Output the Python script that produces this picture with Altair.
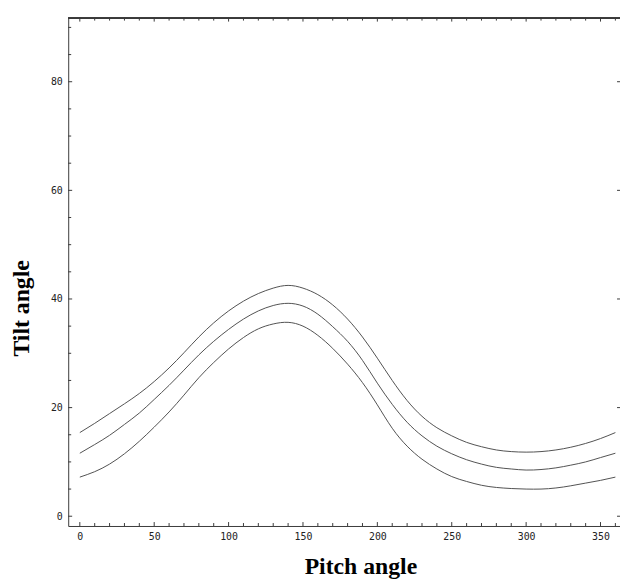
import altair as alt
import pandas as pd

# ---- data ----
pitch = [0, 10, 20, 30, 40, 50, 60, 70, 80, 90, 100, 110, 120, 130, 140, 150, 160, 170, 180,
         190, 200, 210, 220, 230, 240, 250, 260, 270, 280, 290, 300, 310, 320, 330, 340, 350, 360]
tilt_upper = [15.4, 17.1, 18.9, 20.7, 22.6, 24.8, 27.3, 30.1, 33.0, 35.6, 37.8, 39.6, 41.0, 42.0, 42.5,
              42.0, 40.8, 38.9, 36.3, 33.0, 29.1, 25.0, 21.3, 18.4, 16.3, 14.8, 13.6, 12.8, 12.2,
              11.9, 11.8, 11.9, 12.2, 12.7, 13.4, 14.3, 15.4]
tilt_middle = [11.6, 13.2, 14.9, 16.9, 19.0, 21.5, 24.1, 26.9, 29.7, 32.2, 34.4, 36.3, 37.8, 38.8, 39.2,
               38.7, 37.2, 34.9, 32.2, 28.7, 24.5, 20.6, 17.3, 14.8, 12.9, 11.5, 10.4, 9.6, 9.0,
               8.7, 8.5, 8.6, 8.9, 9.4, 10.0, 10.8, 11.6]
tilt_lower = [7.2, 8.2, 9.6, 11.5, 13.8, 16.4, 19.2, 22.3, 25.5, 28.3, 30.8, 32.9, 34.5, 35.4, 35.7,
              35.0, 33.3, 30.9, 28.0, 24.6, 20.5, 16.2, 12.9, 10.5, 8.7, 7.3, 6.4, 5.7, 5.3,
              5.1, 5.0, 5.0, 5.2, 5.6, 6.1, 6.6, 7.2]

x_major = [0, 50, 100, 150, 200, 250, 300, 350]
x_minor = [10, 20, 30, 40, 60, 70, 80, 90, 110, 120, 130, 140, 160, 170, 180, 190, 210, 220,
           230, 240, 260, 270, 280, 290, 310, 320, 330, 340, 360]
y_major = [0, 20, 40, 60, 80]
y_minor = [5, 10, 15, 25, 30, 35, 45, 50, 55, 65, 70, 75, 85, 90]

x_domain = [-7.8, 363.1]
y_domain = [-1.8, 91.8]

rows = []
for name, ys in (("upper", tilt_upper), ("middle", tilt_middle), ("lower", tilt_lower)):
    for p, t in zip(pitch, ys):
        rows.append({"pitch": p, "tilt": t, "curve": name})
df = pd.DataFrame(rows)

W, H = 559, 515
AX = "#3a3a3a"
xs = alt.Scale(domain=x_domain, nice=False, zero=False)
ys = alt.Scale(domain=y_domain, nice=False, zero=False)

x_axis = alt.Axis(values=x_major, title="Pitch angle", format="d",
                  titleX=296, titleY=48, titleAlign="center",
                  titleBaseline="alphabetic", labelPadding=6)
y_axis = alt.Axis(values=y_major, title="Tilt angle", format="d",
                  titleX=-40, titleY=294, titleAngle=-90, titleAlign="center",
                  titleBaseline="alphabetic", labelPadding=6)

lines = alt.Chart(df).mark_line(color="#505050", strokeWidth=1, interpolate="natural").encode(
    x=alt.X("pitch:Q", scale=xs, axis=x_axis, title="Pitch angle"),
    y=alt.Y("tilt:Q", scale=ys, axis=y_axis, title="Tilt angle"),
    detail="curve:N",
)

xmaj = pd.DataFrame({"pitch": x_major})
xmin = pd.DataFrame({"pitch": x_minor})
ymaj = pd.DataFrame({"tilt": y_major})
ymin = pd.DataFrame({"tilt": y_minor})


def xticks(data, y0, y1):
    return alt.Chart(data).mark_rule(color=AX, strokeWidth=1).encode(
        x=alt.X("pitch:Q", scale=xs, axis=x_axis, title="Pitch angle"),
        y=alt.value(y0), y2=alt.value(y1))


def yticks(data, x0, x1):
    return alt.Chart(data).mark_rule(color=AX, strokeWidth=1).encode(
        y=alt.Y("tilt:Q", scale=ys, axis=y_axis, title="Tilt angle"),
        x=alt.value(x0), x2=alt.value(x1))


top_line = alt.Chart(xmaj).mark_rule(color=AX, strokeWidth=1).encode(
    x=alt.value(0), x2=alt.value(W), y=alt.value(0.5))

chart = alt.layer(
    lines,
    xticks(xmaj, H, H - 4), xticks(xmin, H, H - 3),
    xticks(xmaj, 0, 4), xticks(xmin, 0, 3),
    yticks(ymaj, 0, 4), yticks(ymin, 0, 3),
    yticks(ymaj, W - 3, W),
    top_line,
).properties(
    width=W, height=H,
    autosize=alt.AutoSizeParams(type="none"),
    padding={"left": 61, "top": 6, "right": 0, "bottom": 56},
).configure_view(stroke=None).configure_axis(
    grid=False, ticks=False, tickSize=0,
    domainColor=AX, domainWidth=1,
    labelFont="DejaVu Sans Mono", labelFontSize=10, labelColor="#222222",
    titleFont="Liberation Serif", titleFontWeight="bold", titleFontSize=24, titleColor="#000000",
)

chart.save("out.html", embed_options={"renderer": "svg", "actions": False})
